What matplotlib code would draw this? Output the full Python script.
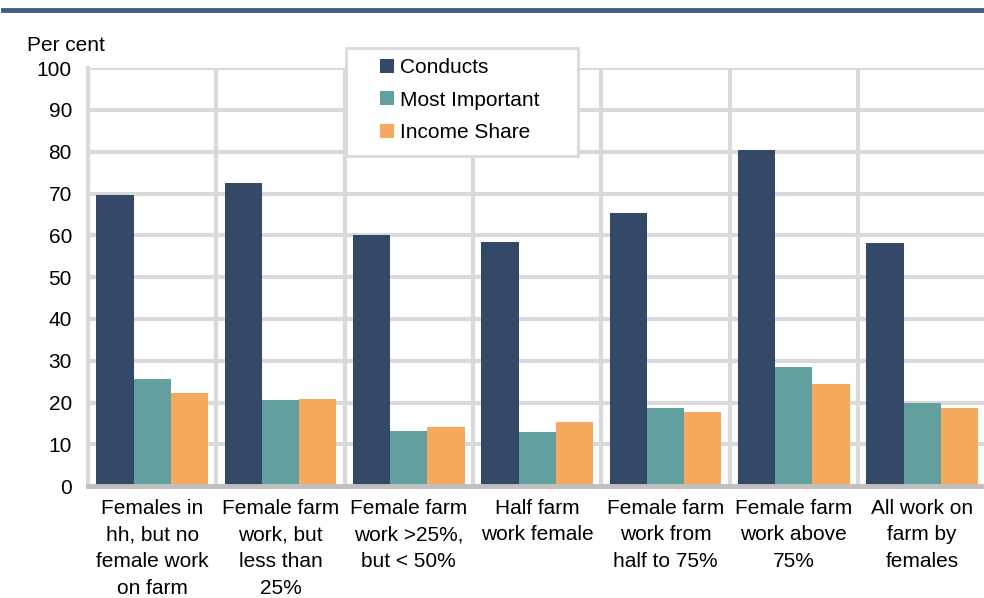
import numpy as np
import matplotlib
matplotlib.use("Agg")
import matplotlib.pyplot as plt
from matplotlib.patches import Patch, Rectangle

plt.rcParams['font.family'] = ['Liberation Sans', 'DejaVu Sans']

# datos
categorias = ["Females in\nhh, but no\nfemale work\non farm",
              "Female farm\nwork, but\nless than\n25%",
              "Female farm\nwork >25%,\nbut < 50%",
              "Half farm\nwork female",
              "Female farm\nwork from\nhalf to 75%",
              "Female farm\nwork above\n75%",
              "All work on\nfarm by\nfemales"]
conducts = [69.6, 72.5, 60.0, 58.4, 65.3, 80.4, 58.1]
most_important = [25.6, 20.6, 13.2, 12.9, 18.7, 28.5, 19.9]
income_share = [22.2, 20.8, 14.1, 15.3, 17.7, 24.4, 18.7]

series = ["Conducts", "Most Important", "Income Share"]
colores = ["#344868", "#62a09f", "#f5a95c"]
grid_c = "#d9d9d9"

fig = plt.figure(figsize=(9.84, 5.98), dpi=100)
ax = fig.add_axes([0.0894, 0.187, 0.913, 0.699])

x = np.arange(len(categorias))
w = 0.29
for i, vals in enumerate([conducts, most_important, income_share]):
    ax.bar(x + (i - 1) * w, vals, w, color=colores[i], zorder=3)

ax.set_ylim(0, 100)
ax.set_xlim(-0.5, len(categorias) - 0.5)
ax.set_yticks(np.arange(0, 101, 10))
ax.set_xticks(x)
ax.set_xticklabels(categorias, fontsize=15, linespacing=1.52)
ax.set_xticks(np.arange(-0.5, len(categorias), 1), minor=True)
ax.tick_params(axis='both', which='both', length=0)
ax.tick_params(axis='y', labelsize=15, pad=11.5)
ax.tick_params(axis='x', pad=9)

ax.grid(axis='y', which='major', color=grid_c, lw=3, zorder=0)
ax.grid(axis='x', which='minor', color=grid_c, lw=3, zorder=0)
for s in ['top', 'right']:
    ax.spines[s].set_visible(False)
ax.spines['left'].set_color(grid_c)
ax.spines['left'].set_linewidth(3)
ax.spines['bottom'].set_color("#c0c0c0")
ax.spines['bottom'].set_linewidth(3.5)
ax.spines['bottom'].set_zorder(4)

fig.text(0.027, 0.915, "Per cent", fontsize=15, ha='left', va='baseline')

# linea de arriba
fig.add_artist(plt.Line2D([0.003, 1.0], [0.983, 0.983], color="#425d82", lw=3.5))

# caja de la leyenda
caja = Rectangle((346 / 984, 1 - 156 / 598), 232 / 984, 108 / 598,
                 transform=fig.transFigure, facecolor='white',
                 edgecolor=grid_c, lw=2, zorder=5)
fig.add_artist(caja)

handles = [Patch(facecolor=c, edgecolor='none') for c in colores]
leg = fig.legend(handles, series, loc='upper left',
                 bbox_to_anchor=(380 / 984, 1 - 58 / 598), fontsize=15,
                 frameon=False, handlelength=0.65, handleheight=0.65,
                 handletextpad=0.3, labelspacing=0.66, borderpad=0,
                 borderaxespad=0)
leg.set_zorder(6)

fig.savefig("out.png", dpi=100)
